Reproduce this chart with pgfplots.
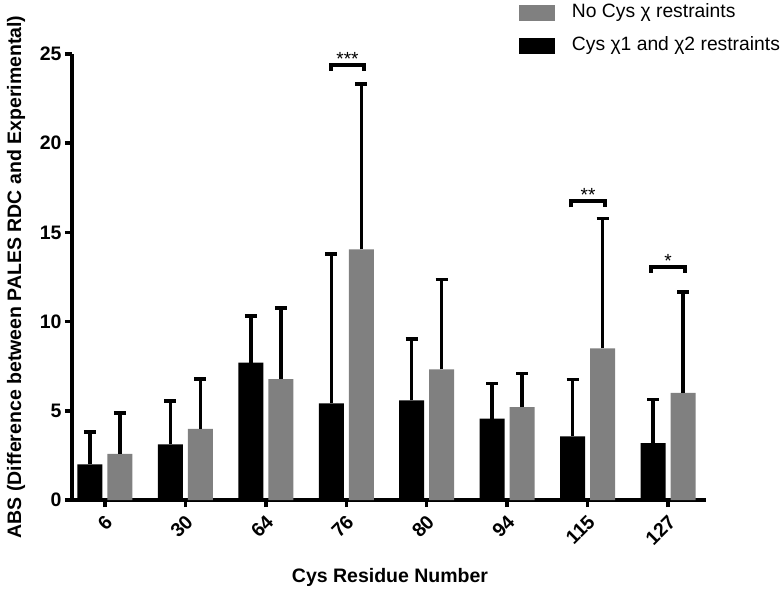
\documentclass[border=0pt]{standalone}
\usepackage{fontspec}
\setmainfont{Liberation Sans}
\usepackage{pgfplots}
\usepackage{pgfplotstable}
\pgfplotsset{compat=1.18}
\definecolor{barGray}{RGB}{128,128,128}

\pgfplotstableread{
x  b     be    g      ge
0  2.00  1.81  2.58   2.30
1  3.12  2.43  3.98   2.79
2  7.70  2.60  6.78   3.98
3  5.42  8.37  14.05  9.27
4  5.59  3.43  7.32   5.05
5  4.56  1.98  5.21   1.87
6  3.57  3.18  8.50   7.29
7  3.19  2.43  6.00   5.66
}\data

\begin{document}
\begin{tikzpicture}
\useasboundingbox (0,0) rectangle (784pt,-593pt);
\begin{axis}[
  at={(72pt,-500pt)}, anchor=south west,
  scale only axis, width=634pt, height=446pt,
  ybar=5pt, bar width=25pt,
  legend image code/.code={\fill[#1] (0pt,-8pt) rectangle (36pt,8pt);},
  xmin=-0.41, xmax=7.472, ymin=0, ymax=25,
  clip=false,
  axis lines=left, axis line style={-, line width=3.5pt, black},
  xtick={0,...,7}, xticklabels={6,30,64,76,80,94,115,127},
  ytick={0,5,...,25},
  tick align=outside, major tick length=7pt,
  tick style={line width=3.5pt, black},
  /pgf/number format/assume math mode=true,
  yticklabel style={font=\bfseries\fontsize{19.5}{20}\selectfont},
  xticklabel style={font=\bfseries\fontsize{19.5}{20}\selectfont, rotate=45, anchor=east, yshift=-11pt, xshift=-2pt},
  xlabel={Cys Residue Number},
  xlabel style={at={(axis description cs:0.5016,-0.1726)}, anchor=center, font=\bfseries\fontsize{19.5}{20}\selectfont},
  ylabel={ABS (Difference between PALES RDC and Experimental)},
  ylabel style={at={(axis description cs:-0.0883,0.5)}, anchor=center, font=\bfseries\fontsize{19.5}{20}\selectfont},
  reverse legend,
  legend style={at={(axis description cs:0.705,1.114)}, anchor=north west,
    draw=none, fill=none, inner sep=0pt, outer sep=0pt,
    font=\fontsize{19.3}{23}\selectfont,
    nodes={inner sep=0pt, text height=14pt, text depth=5pt, anchor=west},
    row sep=14pt,
    /tikz/every odd column/.append style={column sep=17pt}},
  legend cell align=left,
]
\addplot[fill=black, draw=none,
  error bars/.cd, y dir=plus, y explicit, error mark=|,
  error bar style={line width=3.5pt, draw=black, solid},
  error mark options={line width=3.5pt, mark size=6pt, draw=black, fill=black, solid}]
  table[x=x, y=b, y error=be] {\data};
\addlegendentry{Cys χ1 and χ2 restraints}
\addplot[fill=barGray, draw=none,
  error bars/.cd, y dir=plus, y explicit, error mark=|,
  error bar style={line width=3.5pt, draw=black, solid},
  error mark options={line width=3.5pt, mark size=6pt, draw=black, fill=black, solid}]
  table[x=x, y=g, y error=ge] {\data};
\addlegendentry{No Cys χ restraints}

% significance brackets
\draw[line width=4pt, black] (axis cs:2.81,24.05) -- (axis cs:2.81,24.38) -- (axis cs:3.22,24.38) -- (axis cs:3.22,24.05);
\node[anchor=base, font=\fontsize{19}{19}\selectfont, inner sep=0pt] at (axis cs:3.015,24.38) {***};
\draw[line width=4pt, black] (axis cs:5.794,16.40) -- (axis cs:5.794,16.76) -- (axis cs:6.217,16.76) -- (axis cs:6.217,16.40);
\node[anchor=base, font=\fontsize{19}{19}\selectfont, inner sep=0pt] at (axis cs:6.005,16.76) {**};
\draw[line width=4pt, black] (axis cs:6.789,12.75) -- (axis cs:6.789,13.06) -- (axis cs:7.211,13.06) -- (axis cs:7.211,12.75);
\node[anchor=base, font=\fontsize{19}{19}\selectfont, inner sep=0pt] at (axis cs:7.0,13.06) {*};
\end{axis}
\end{tikzpicture}
\end{document}
